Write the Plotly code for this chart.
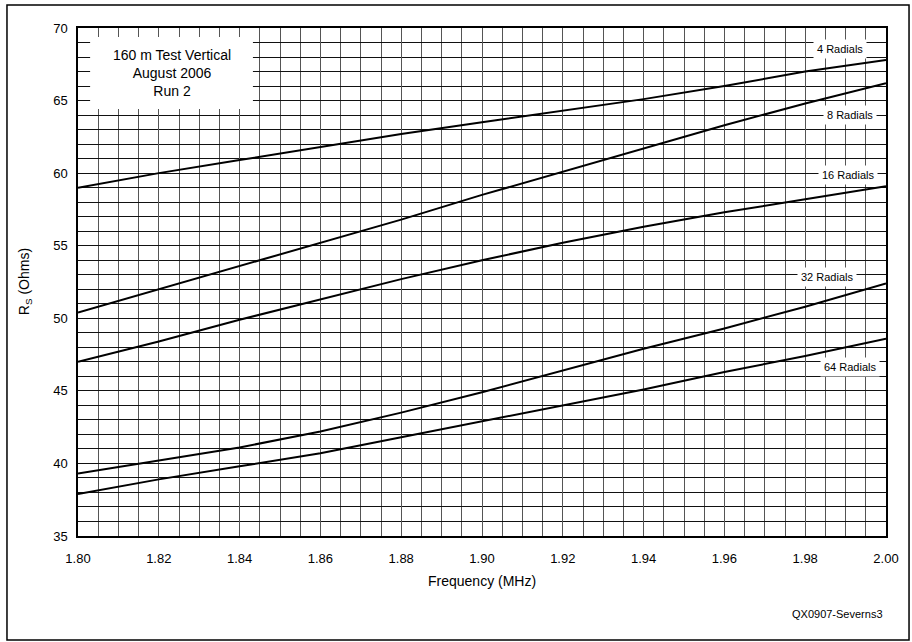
import plotly.graph_objects as go

freq = [1.80, 1.82, 1.84, 1.86, 1.88, 1.90, 1.92, 1.94, 1.96, 1.98, 2.00]
r4 = [59.0, 60.0, 60.9, 61.8, 62.7, 63.5, 64.3, 65.1, 66.0, 67.0, 67.8]
r8 = [50.4, 52.0, 53.6, 55.2, 56.8, 58.5, 60.1, 61.7, 63.3, 64.8, 66.2]
r16 = [47.0, 48.4, 49.9, 51.3, 52.7, 54.0, 55.2, 56.3, 57.3, 58.2, 59.1]
r32 = [39.3, 40.2, 41.1, 42.2, 43.5, 44.9, 46.4, 47.9, 49.3, 50.8, 52.4]
r64 = [37.9, 38.9, 39.8, 40.7, 41.8, 42.9, 44.0, 45.1, 46.3, 47.4, 48.6]

series = [("4 Radials", r4), ("8 Radials", r8), ("16 Radials", r16),
          ("32 Radials", r32), ("64 Radials", r64)]
label_pos = {"4 Radials": (1.9885, 68.55), "8 Radials": (1.991, 64.0),
             "16 Radials": (1.9905, 59.87), "32 Radials": (1.9855, 52.84),
             "64 Radials": (1.991, 46.64)}

font_family = "Liberation Sans, Arial, sans-serif"
fig = go.Figure()
for name, ys in series:
    fig.add_trace(go.Scatter(x=freq, y=ys, mode="lines", name=name,
                             line=dict(color="black", width=2), showlegend=False))
    lx, ly = label_pos[name]
    fig.add_annotation(x=lx, y=ly, text=name, showarrow=False, bgcolor="white",
                       borderpad=3, font=dict(size=11, color="black", family=font_family))

# title box
fig.add_shape(type="rect", xref="x", yref="y", x0=1.803, x1=1.8433, y0=64.42, y1=69.38,
              fillcolor="white", line=dict(width=0), layer="above")
fig.add_annotation(x=1.8232, y=66.9, xref="x", yref="y",
                   text="160 m Test Vertical<br>August 2006<br>Run 2", showarrow=False,
                   font=dict(size=14, color="black", family=font_family), align="center")

# outer frame
fig.add_shape(type="rect", xref="paper", yref="paper", x0=-0.0879, x1=1.0285,
              y0=-0.2047, y1=1.0453, line=dict(color="black", width=1.5), layer="above")

fig.add_annotation(xref="paper", yref="paper", x=-0.079, y=0.5, text="R<sub>S</sub> (Ohms)",
                   textangle=-90, showarrow=False,
                   font=dict(size=14, color="black", family=font_family))
fig.add_annotation(xref="paper", yref="paper", x=0.5, y=-0.108, text="Frequency (MHz)",
                   showarrow=False, font=dict(size=14, color="black", family=font_family))
fig.add_annotation(xref="paper", yref="paper", x=0.9988, y=-0.169, text="QX0907-Severns3",
                   xanchor="right", showarrow=False,
                   font=dict(size=11, color="black", family=font_family))

fig.update_xaxes(range=[1.80, 2.00], dtick=0.02, tickformat=".2f", ticks="",
                 showgrid=True, gridcolor="#555555", gridwidth=1,
                 minor=dict(dtick=0.005, showgrid=True, gridcolor="#555555", gridwidth=1),
                 showline=True, linecolor="black", linewidth=1.5, mirror=True,
                 zeroline=False, tickfont=dict(size=13, color="black", family=font_family),
                 ticklabelstandoff=10)
fig.update_yaxes(range=[35, 70], dtick=5, ticks="",
                 showgrid=True, gridcolor="#111111", gridwidth=1,
                 minor=dict(dtick=1, showgrid=True, gridcolor="#111111", gridwidth=1),
                 showline=True, linecolor="black", linewidth=1.5, mirror=True,
                 zeroline=False, tickfont=dict(size=13, color="black", family=font_family),
                 ticklabelstandoff=6)
fig.update_layout(width=912, height=642, margin=dict(l=78, r=26, t=28, b=106),
                  plot_bgcolor="white", paper_bgcolor="white")
fig.write_html("out.html", config={"displayModeBar": False},
               post_script="document.body.style.margin='0';document.body.style.padding='0';")
